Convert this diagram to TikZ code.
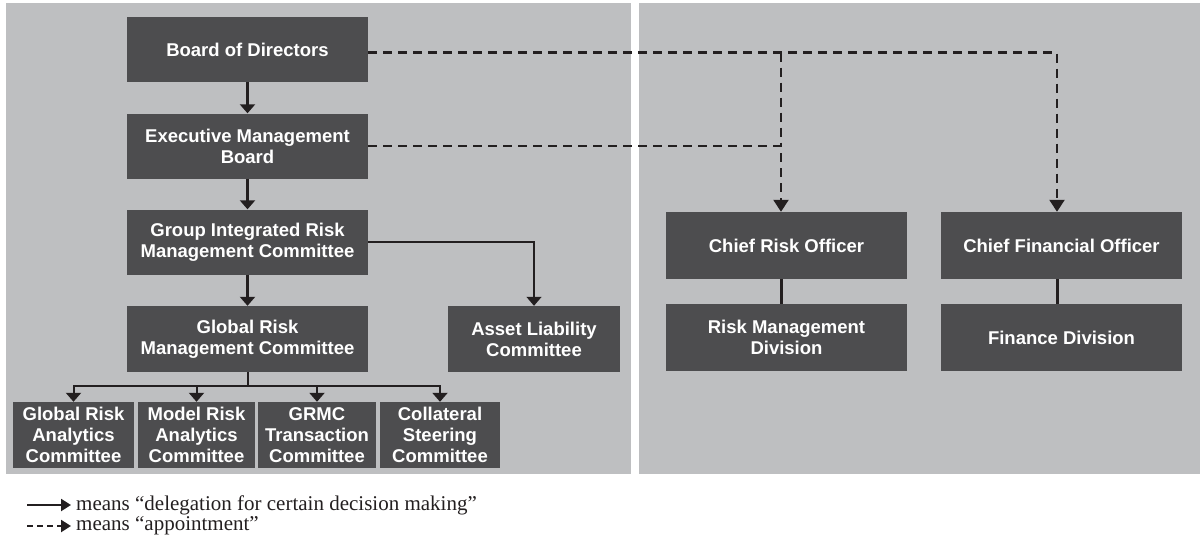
\documentclass[tikz,border=0pt]{standalone}
\usepackage{fontspec}
\setmainfont{Liberation Serif}
\setsansfont{Liberation Sans}
\usetikzlibrary{arrows.meta}
\definecolor{panelgray}{HTML}{BEBFC1}
\definecolor{boxgray}{HTML}{4D4D4F}
\definecolor{inkgray}{HTML}{231F20}
\tikzset{
    unit/.style={rectangle, fill=boxgray, text=white, align=center,
        inner sep=0pt, minimum width=241pt, minimum height=65pt,
        font=\sffamily\bfseries\fontsize{18.5}{21}\selectfont}
}
\tikzset{
    delegate/.style={draw=inkgray, line width=2.2pt,
        -{Triangle[width=15pt,length=9pt]}},
    appoint/.style={draw=inkgray, line width=2.2pt,
        dash pattern=on 9pt off 6pt, -{Triangle[width=15pt,length=12pt]}},
    legend/.style={anchor=west, inner sep=0pt, text=inkgray,
        font=\fontsize{21}{23}\selectfont}
}

\begin{document}
\begin{tikzpicture}[x=1pt, y=-1pt]
  \useasboundingbox (0,0) rectangle (1200,544);
  \fill[panelgray] (6,3) rectangle (631,474);
  \fill[panelgray] (639,3) rectangle (1200,474);

  \node (bod) [unit] at (247.5, 49.5) {Board of Directors};
  \node (emb) [unit] at (247.5, 146) {Executive Management\\Board};
  \node (girmc) [unit] at (247.5, 242) {Group Integrated Risk\\Management Committee};
  \node (grmc) [unit, minimum height=66pt] at (247.5, 339) {Global Risk\\Management Committee};
  \node (alc) [unit, minimum width=172pt, minimum height=66pt] at (534, 339) {Asset Liability\\Committee};
  \node (grac) [unit, minimum width=121pt, minimum height=66pt] at (73.5, 435) {Global Risk\\Analytics\\Committee};
  \node (mrac) [unit, minimum width=117pt, minimum height=66pt] at (196.5, 435) {Model Risk\\Analytics\\Committee};
  \node (grmctc) [unit, minimum width=118pt, minimum height=66pt] at (317, 435) {GRMC\\Transaction\\Committee};
  \node (csc) [unit, minimum width=120pt, minimum height=66pt] at (440, 435) {Collateral\\Steering\\Committee};
  \node (cro) [unit, minimum height=67pt] at (786.5, 245.5) {Chief Risk Officer};
  \node (rmd) [unit, minimum height=67pt] at (786.5, 337.5) {Risk Management\\Division};
  \node (cfo) [unit, minimum height=67pt] at (1061.5, 245.5) {Chief Financial Officer};
  \node (fd) [unit, minimum height=67pt] at (1061.5, 337.5) {Finance Division};

  % delegation down the committee chain
  \draw[delegate] (bod) -- (emb);
  \draw[delegate] (emb) -- (girmc);
  \draw[delegate] (girmc) -- (grmc);
  \draw[delegate, line width=1.4pt] (girmc.east) -| (alc.north);
  \coordinate (fork) at (247.5, 386);
  \draw[inkgray, line width=2pt] (grmc.south) -- (fork);
  \foreach \n in {grac, mrac, grmctc, csc}
    \draw[delegate, line width=2pt] (fork) -| (\n.north);

  % appointments
  \coordinate (croin) at ([xshift=-5.5pt]cro.north);
  \coordinate (cfoin) at ([xshift=-4.5pt]cfo.north);
  \draw[appoint] ([yshift=-3pt]bod.east) -| (cfoin);
  \draw[appoint] (emb.east) -| (croin);
  \draw[appoint, -] ([yshift=-3pt]bod.east -| croin) -- (emb.east -| croin);
  \draw[inkgray, line width=3pt] (croin |- cro.south) -- (croin |- rmd.north);
  \draw[inkgray, line width=3pt] (cfoin |- cfo.south) -- (cfoin |- fd.north);

  % legend
  \coordinate (k1) at (27, 505);
  \coordinate (k2) at (27, 526);
  \node (l1) [legend] at (76, 505) {means “delegation for certain decision making”};
  \node (l2) [legend] at (76, 526) {means “appointment”};
  \draw[delegate, -{Triangle[width=12pt,length=10pt]}] (k1) -- ([xshift=-5pt]l1.west);
  \draw[appoint, dash pattern=on 6pt off 4pt, -{Triangle[width=12pt,length=10pt]}] (k2) -- ([xshift=-5pt]l2.west);
\end{tikzpicture}
\end{document}
